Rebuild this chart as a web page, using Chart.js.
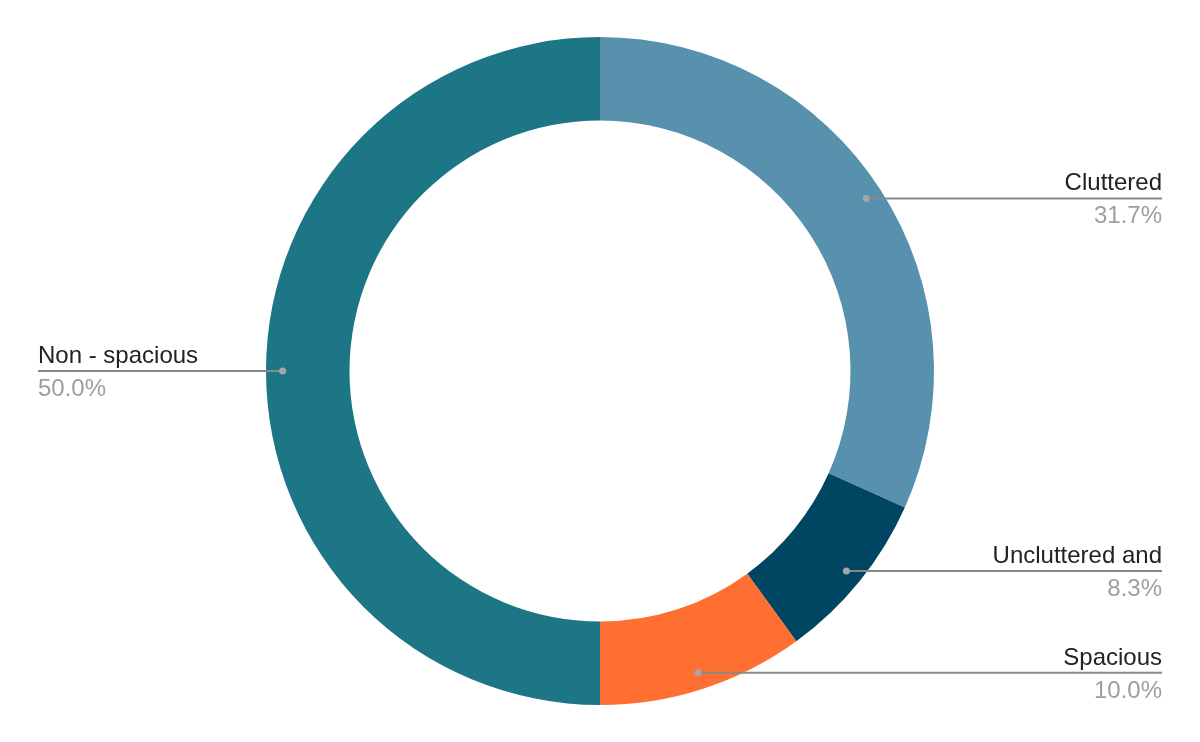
<!DOCTYPE html>
<html>
<head>
<meta charset="utf-8">
<script src="https://cdn.jsdelivr.net/npm/chart.js@4"></script>
<style>
  html, body { margin: 0; padding: 0; background: #fff; }
  #wrap { width: 1200px; height: 742px; }
</style>
</head>
<body>
<div id="wrap"><canvas id="myChart" width="1200" height="742"></canvas></div>
<script>
// Data
const labels = ['Cluttered', 'Uncluttered and', 'Spacious', 'Non - spacious'];
const values = [31.7, 8.3, 10.0, 50.0];
const colors = ['#5891ad', '#004561', '#ff6f31', '#1c7685'];

// Draws the leader lines and the labels beside the ring
const leaderLabels = {
    id: 'leaderLabels',
    afterDatasetsDraw(chart) {
        const ctx = chart.ctx;
        const meta = chart.getDatasetMeta(0);
        const total = values.reduce((a, b) => a + b, 0);
        meta.data.forEach((arc, i) => {
            const mid = (arc.startAngle + arc.endAngle) / 2;
            const r = arc.outerRadius * 0.95;
            const x = arc.x + Math.cos(mid) * r;
            const y = arc.y + Math.sin(mid) * r;
            const right = Math.cos(mid) >= 0;
            const endX = right ? 1162 : 38;

            ctx.save();
            ctx.strokeStyle = '#888888';
            ctx.lineWidth = 2;
            ctx.beginPath();
            ctx.moveTo(x, y);
            ctx.lineTo(endX, y);
            ctx.stroke();

            ctx.fillStyle = '#a6a6a6';
            ctx.beginPath();
            ctx.arc(x, y, 3.5, 0, Math.PI * 2);
            ctx.fill();

            ctx.font = '24px "Liberation Sans", Arial, sans-serif';
            ctx.textAlign = right ? 'right' : 'left';
            ctx.textBaseline = 'alphabetic';
            ctx.fillStyle = '#222222';
            ctx.fillText(labels[i], endX, y - 8);
            ctx.fillStyle = '#9e9e9e';
            const pct = (values[i] / total * 100).toFixed(1) + '%';
            ctx.fillText(pct, endX, y + 25);
            ctx.restore();
        });
    }
};

const ctx = document.getElementById('myChart').getContext('2d');
const myChart = new Chart(ctx, {
    type: 'doughnut',
    data: {
        labels: labels,
        datasets: [{
            data: values,
            backgroundColor: colors,
            borderWidth: 0
        }]
    },
    options: {
        responsive: false,
        animation: false,
        cutout: '75%',
        layout: {
            padding: { top: 37, bottom: 37 }
        },
        plugins: {
            legend: { display: false },
            tooltip: { enabled: false }
        }
    },
    plugins: [leaderLabels]
});
</script>
</body>
</html>
